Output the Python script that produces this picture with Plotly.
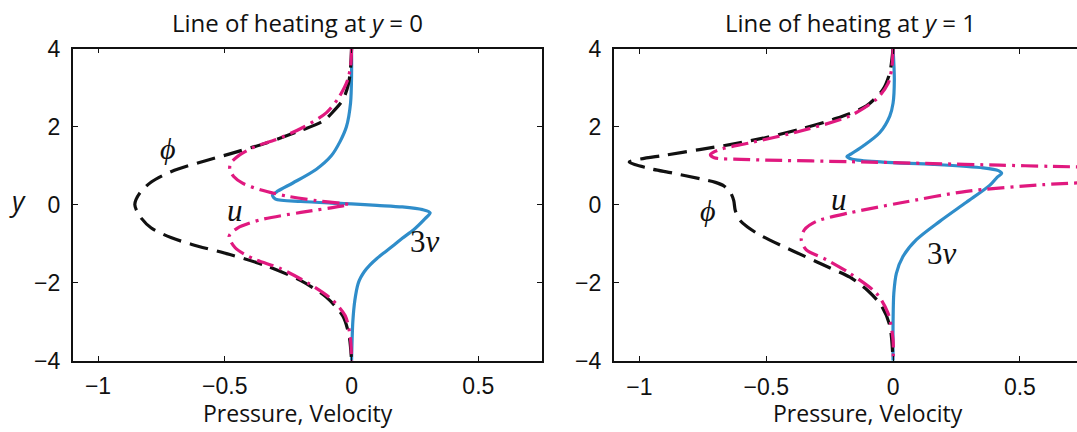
import plotly.graph_objects as go

# ---- Heating line at y = 0 -------------------------------------------------
phi0_x = [0.0, -0.004, -0.012, -0.033, -0.07, -0.11, -0.2, -0.336, -0.48, -0.6,
          -0.71, -0.79, -0.835, -0.855, -0.835, -0.79, -0.71, -0.63, -0.48,
          -0.336, -0.2, -0.1, -0.035, -0.01, 0.0]
phi0_y = [4.0, 3.5, 3.1, 2.7, 2.4, 2.15, 1.9, 1.58, 1.3, 1.08,
          0.85, 0.58, 0.3, 0.0, -0.3, -0.6, -0.85, -1.02, -1.28,
          -1.57, -1.95, -2.37, -2.85, -3.35, -4.0]

u0_x = [0.0, -0.003, -0.015, -0.05, -0.1, -0.2, -0.3, -0.375, -0.44, -0.478,
        -0.48, -0.465, -0.43, -0.36, -0.257, -0.138, -0.04, -0.01, -0.04, -0.2,
        -0.36, -0.45, -0.483, -0.46, -0.39, -0.28, -0.17, -0.08, -0.025, -0.005, 0.0]
u0_y = [4.0, 3.6, 3.2, 2.75, 2.35, 1.95, 1.66, 1.5, 1.28, 1.05,
        0.9, 0.72, 0.55, 0.38, 0.22, 0.1, 0.03, 0.0, -0.04, -0.2,
        -0.39, -0.6, -0.81, -1.1, -1.38, -1.64, -2.02, -2.42, -2.85, -3.4, -4.0]

v0_x = [0.0, 0.0, -0.004, -0.02, -0.045, -0.08, -0.14, -0.23, -0.29, -0.312,
        -0.3, -0.2, -0.08, 0.0, 0.1, 0.2, 0.28, 0.31, 0.29, 0.244,
        0.2, 0.17, 0.135, 0.1, 0.072, 0.05, 0.036, 0.026, 0.013, 0.005, 0.0]
v0_y = [4.0, 3.3, 2.6, 2.0, 1.62, 1.25, 0.9, 0.56, 0.35, 0.24,
        0.14, 0.08, 0.04, 0.02, -0.02, -0.06, -0.13, -0.21, -0.36, -0.65,
        -0.86, -1.02, -1.2, -1.38, -1.55, -1.72, -1.87, -2.02, -2.45, -3.0, -4.0]

# ---- Heating line at y = 1 -------------------------------------------------
phi1_x = [0.0, -0.013, -0.039, -0.105, -0.237, -0.368, -0.5, -0.632, -0.763, -0.895,
          -1.04, -0.97, -0.87, -0.76, -0.70, -0.665, -0.64, -0.628, -0.622, -0.605,
          -0.575, -0.53, -0.447, -0.39, -0.3, -0.25, -0.17, -0.1, -0.045, -0.013, 0.0]
phi1_y = [4.0, 3.38, 2.96, 2.53, 2.18, 1.93, 1.72, 1.55, 1.41, 1.27,
          1.09, 0.94, 0.81, 0.66, 0.57, 0.47, 0.3, 0.1, -0.15, -0.39,
          -0.57, -0.76, -1.03, -1.2, -1.47, -1.62, -1.86, -2.2, -2.6, -3.1, -4.0]

u1_x = [0.0, -0.005, -0.02, -0.066, -0.171, -0.368, -0.566, -0.684, -0.72, -0.705,
        -0.6, -0.5, -0.171, 0.158, 0.421, 0.618, 0.9, 1.1, 0.9, 0.592,
        0.289, 0.026, -0.171, -0.303, -0.349, -0.362, -0.342, -0.263, -0.171, -0.066,
        -0.02, 0.0, 0.0]
u1_y = [4.0, 3.5, 3.1, 2.7, 2.27, 1.88, 1.58, 1.41, 1.28, 1.2,
        1.16, 1.14, 1.1, 1.05, 1.01, 0.98, 0.93, 0.8, 0.62, 0.51,
        0.34, 0.04, -0.21, -0.43, -0.64, -0.9, -1.16, -1.41, -1.76, -2.27,
        -2.78, -3.47, -4.0]

v1_x = [0.0, 0.005, 0.0, -0.013, -0.053, -0.118, -0.165, -0.182, -0.16, -0.04,
        0.158, 0.355, 0.415, 0.428, 0.41, 0.382, 0.289, 0.184, 0.092, 0.039,
        0.013, 0.003, 0.0, 0.0]
v1_y = [4.0, 3.2, 2.6, 2.27, 1.84, 1.5, 1.3, 1.235, 1.16, 1.09,
        1.03, 0.94, 0.87, 0.8, 0.7, 0.5, 0.06, -0.43, -0.9, -1.33,
        -1.76, -2.27, -3.0, -4.0]

x_ticks = [-1, -0.5, 0, 0.5]
x_tick_text = ["\u22121", "\u22120.5", "0", "0.5"]
y_ticks = [-4, -2, 0, 2, 4]
y_tick_text = ["\u22124", "\u22122", "0", "2", "4"]

BLUE = "#2f8dca"
MAGENTA = "#e0197f"
BLACK = "#111111"
W, H = 1077, 432

fig = go.Figure()


def add_panel(xa, ya, vx, vy, px, py, ux, uy):
    fig.add_trace(go.Scatter(x=vx, y=vy, mode="lines", xaxis=xa, yaxis=ya,
                             line=dict(color=BLUE, width=3.2, shape="spline", smoothing=0.8)))
    fig.add_trace(go.Scatter(x=px, y=py, mode="lines", xaxis=xa, yaxis=ya,
                             line=dict(color=BLACK, width=3.2, dash="19px,9px",
                                       shape="spline", smoothing=0.8)))
    fig.add_trace(go.Scatter(x=ux, y=uy, mode="lines", xaxis=xa, yaxis=ya,
                             line=dict(color=MAGENTA, width=3.2, dash="17px,6px,3px,6px",
                                       shape="spline", smoothing=0.8)))


add_panel("x", "y", v0_x, v0_y, phi0_x, phi0_y, u0_x, u0_y)
add_panel("x2", "y2", v1_x, v1_y, phi1_x, phi1_y, u1_x, u1_y)

tick_font = dict(family="Liberation Sans, Arial, sans-serif", size=23, color="#111")
axis_common = dict(showgrid=False, zeroline=False, showline=True, linecolor="#111",
                   ticks="inside", ticklen=5, tickcolor="#111", tickfont=tick_font,
                   automargin=False)

py0, py1 = 1 - 360.7 / H, 1 - 48.5 / H
fig.update_layout(
    width=W, height=H, template="none", showlegend=False,
    paper_bgcolor="white", plot_bgcolor="white",
    margin=dict(l=0, r=0, t=0, b=0),
    xaxis=dict(domain=[72.7 / W, 541.7 / W], range=[-1.1, 0.75], anchor="y",
               tickvals=x_ticks, ticktext=x_tick_text, mirror="ticks",
               linewidth=1.6, ticklabelstandoff=4, **axis_common),
    yaxis=dict(domain=[py0, py1], range=[-4, 4], anchor="x",
               tickvals=y_ticks, ticktext=y_tick_text, mirror="ticks",
               linewidth=1.6, ticklabelstandoff=6, **axis_common),
    xaxis2=dict(domain=[614 / W, 1.0], range=[-1.1, 0.725], anchor="y2",
                tickvals=x_ticks, ticktext=x_tick_text, mirror="ticks",
                linewidth=2.4, ticklabelstandoff=4, **axis_common),
    yaxis2=dict(domain=[py0, py1], range=[-4, 4], anchor="x2",
                tickvals=y_ticks, ticktext=y_tick_text, mirror=False,
                linewidth=2.4, ticklabelstandoff=6, **axis_common),
)

sans = "Open Sans, Noto Sans, sans-serif"
serif = "Liberation Serif, DejaVu Serif, serif"
TXT = "#111"

notes = [
    dict(text="Line of heating at <i>y</i> = 0", x=297 / W, y=1 - 22 / H,
         xref="paper", yref="paper", font=dict(family=sans, size=24, color=TXT)),
    dict(text="Line of heating at <i>y</i> = 1", x=850 / W, y=1 - 22 / H,
         xref="paper", yref="paper", font=dict(family=sans, size=24, color=TXT)),
    dict(text="Pressure, Velocity", x=298 / W, y=1 - 413 / H,
         xref="paper", yref="paper", font=dict(family=sans, size=23, color=TXT)),
    dict(text="Pressure, Velocity", x=868 / W, y=1 - 413 / H,
         xref="paper", yref="paper", font=dict(family=sans, size=23, color=TXT)),
    dict(text="<i>y</i>", x=17 / W, y=1 - 200 / H,
         xref="paper", yref="paper", font=dict(family=sans, size=27, color=TXT)),
    dict(text="<i>\u03d5</i>", x=-0.723, y=1.45, xref="x", yref="y",
         font=dict(family=serif, size=30, color=TXT)),
    dict(text="<i>u</i>", x=-0.458, y=-0.14, xref="x", yref="y",
         font=dict(family=serif, size=31, color=TXT)),
    dict(text="3<i>v</i>", x=0.291, y=-0.95, xref="x", yref="y",
         font=dict(family=serif, size=31, color=TXT)),
    dict(text="<i>\u03d5</i>", x=-0.729, y=-0.14, xref="x2", yref="y2",
         font=dict(family=serif, size=30, color=TXT)),
    dict(text="<i>u</i>", x=-0.213, y=0.12, xref="x2", yref="y2",
         font=dict(family=serif, size=31, color=TXT)),
    dict(text="3<i>v</i>", x=0.194, y=-1.25, xref="x2", yref="y2",
         font=dict(family=serif, size=31, color=TXT)),
]
for n in notes:
    fig.add_annotation(showarrow=False, xanchor="center", yanchor="middle", **n)

fig.write_html("out.html")
